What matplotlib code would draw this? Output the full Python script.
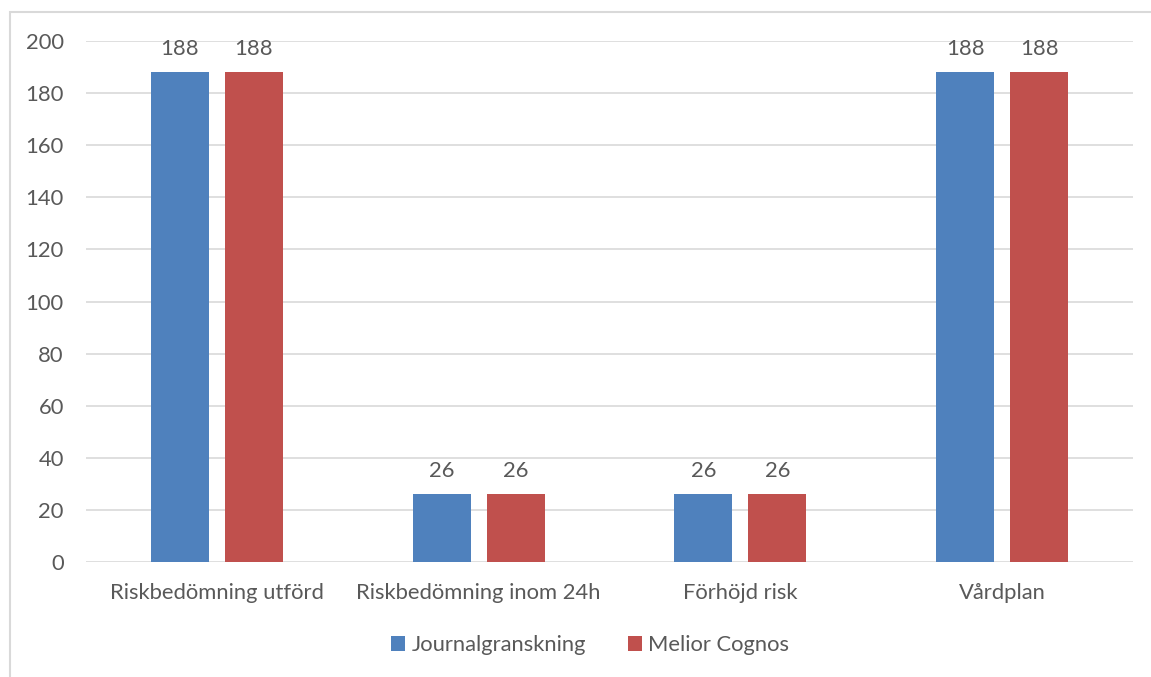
import numpy as np
import matplotlib.pyplot as plt
from matplotlib.patches import Rectangle

categories = ["Riskbedömning utförd", "Riskbedömning inom 24h", "Förhöjd risk", "Vårdplan"]
journal = [188, 26, 26, 188]
melior = [188, 26, 26, 188]
series_names = ["Journalgranskning", "Melior Cognos"]
colors = ["#4F81BD", "#C0504D"]
yticks = list(range(0, 201, 20))

plt.rcParams['font.family'] = ['Lato', 'DejaVu Sans']
txt = "#595959"
fs = 15.8

fig = plt.figure(figsize=(11.51, 6.77), dpi=100)
W, H = 1151, 677
ax = fig.add_axes([86 / W, 1 - 562 / H, (1133 - 86) / W, (562 - 41) / H])

# chart border (cut off at right and bottom like the reference)
fig.patches.append(Rectangle((10 / W, -0.05), 1.2, 1 - 12 / H + 0.05, transform=fig.transFigure,
                             fill=False, ec="#D9D9D9", lw=1.5))

x = np.arange(len(categories))
w = 0.2216
off = 0.1413
for vals, name, c, d in zip([journal, melior], series_names, colors, [-off, off]):
    bars = ax.bar(x + d, vals, w, color=c, label=name, zorder=3)
    for b, v in zip(bars, vals):
        ax.text(b.get_x() + b.get_width() / 2, v + 5, str(v), ha="center", va="bottom",
                fontsize=fs, color=txt)

ax.set_xlim(-0.5, 3.5)
ax.set_ylim(0, 200)
ax.set_yticks(yticks)
ax.set_xticks(x)
ax.set_xticklabels(categories)
ax.grid(axis="y", color="#D9D9D9", lw=1.2, zorder=0)
for s in ax.spines.values():
    s.set_visible(False)
ax.tick_params(axis="both", length=0, labelsize=fs, colors=txt)
ax.tick_params(axis="y", pad=16)
ax.tick_params(axis="x", pad=15)

leg = fig.legend(loc="center", bbox_to_anchor=(590 / W, 1 - 645 / H), ncol=2, frameon=False,
                 fontsize=fs, handlelength=0.65, handleheight=0.65, columnspacing=1.9,
                 handletextpad=0.3)
for t in leg.get_texts():
    t.set_color(txt)

fig.savefig("out.png", dpi=100)
